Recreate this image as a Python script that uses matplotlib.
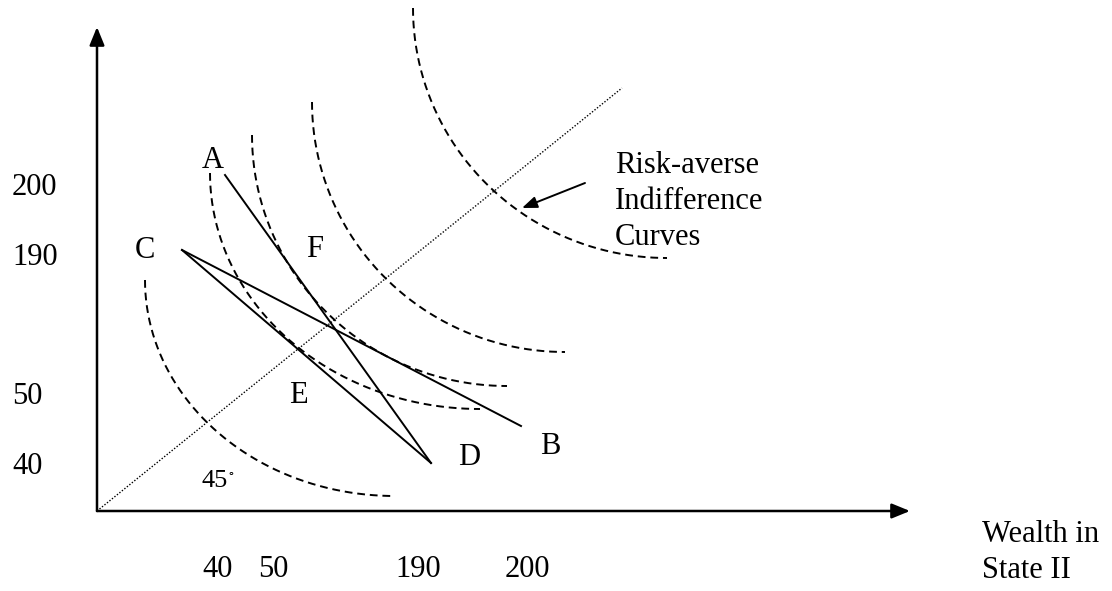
import matplotlib.pyplot as plt
import numpy as np

plt.rcParams['font.family'] = ['Liberation Serif', 'DejaVu Serif']
plt.rcParams['mathtext.fontset'] = 'stix'

# diagram coordinates: origin at the axes corner, y upward (schematic units)
axis_x_end = 813
axis_y_end = 484
diag_end = (525, 423)

# indifference curves: top (vertical) end and bottom-right (flat) end
curve_top_x = [48, 113, 155, 215, 316]
curve_top_y = [231, 338, 376, 409, 503]
curve_end_x = [298, 383, 410, 468, 570]
curve_end_y = [15, 102, 125, 159, 253]

# budget lines
pts = {'A': (128, 336), 'B': (424, 85), 'C': (85, 261), 'D': (334, 48)}
segments = [('A', 'D'), ('C', 'B'), ('C', 'D')]

# point labels (baseline positions)
labels = ['A', 'C', 'F', 'E', 'D', 'B']
label_x = [116, 48, 218, 201, 372, 453]
label_y = [343, 253, 254, 108, 46, 57]

ytick_labels = ['200', '190', '50', '40']
ytick_y = [316, 246, 107, 37]
xtick_labels = ['40', '50', '190', '200']
xtick_x = [121, 176, 321, 430]

note_lines = ['Risk-averse', 'Indifference', 'Curves']
note_y = [338, 302, 266]
xlabel_lines = ['Wealth in', 'State II']
xlabel_y = [-31, -67]

fig = plt.figure(figsize=(11.12, 5.91), dpi=100)
ax = fig.add_axes([0, 0, 1, 1])
ax.set_xlim(-97, 1015)
ax.set_ylim(-80, 511)
ax.axis('off')

# axes with arrow heads
arrow_kw = dict(arrowstyle='-|>,head_length=1.1,head_width=0.45', color='black',
                lw=1.8, shrinkA=0, shrinkB=0)
ax.annotate('', xy=(axis_x_end, 0), xytext=(0, 0), arrowprops=arrow_kw)
ax.annotate('', xy=(0, axis_y_end), xytext=(0, 0), arrowprops=arrow_kw)

# 45 degree line
ax.plot([0, diag_end[0]], [0, diag_end[1]], color='black', lw=1.0,
        linestyle=(0, (1, 1.3)))

# indifference curves as quarter-ellipse arcs
t = np.linspace(0, np.pi / 2, 200)
for x0, y0, x1, y1 in zip(curve_top_x, curve_top_y, curve_end_x, curve_end_y):
    a = x1 - x0
    b = y0 - y1
    xs = x1 - a * np.cos(t)
    ys = y0 - b * np.sin(t)
    ax.plot(xs, ys, color='black', lw=1.4, linestyle=(0, (4, 2.5)))

for p, q in segments:
    ax.plot([pts[p][0], pts[q][0]], [pts[p][1], pts[q][1]], color='black', lw=1.4)

fs = 22
for s, x, y in zip(labels, label_x, label_y):
    ax.text(x, y, s, fontsize=fs, ha='center', va='baseline')

for s, y in zip(ytick_labels, ytick_y):
    ax.text(-85, y, s, fontsize=fs, ha='left', va='baseline')
for s, x in zip(xtick_labels, xtick_x):
    ax.text(x, -66, s, fontsize=fs, ha='center', va='baseline')

ax.text(105, 24, '45', fontsize=19, ha='left', va='baseline')
ax.text(131, 36, r'$\circ$', fontsize=10, ha='left', va='baseline')

for s, y in zip(note_lines, note_y):
    ax.text(518, y, s, fontsize=fs, ha='left', va='baseline')
ax.annotate('', xy=(425, 303), xytext=(488, 328),
            arrowprops=dict(arrowstyle='-|>,head_length=0.9,head_width=0.35',
                            color='black', lw=1.4, shrinkA=0, shrinkB=0))

for s, y in zip(xlabel_lines, xlabel_y):
    ax.text(885, y, s, fontsize=fs, ha='left', va='baseline')

fig.savefig('out.png', dpi=100)
